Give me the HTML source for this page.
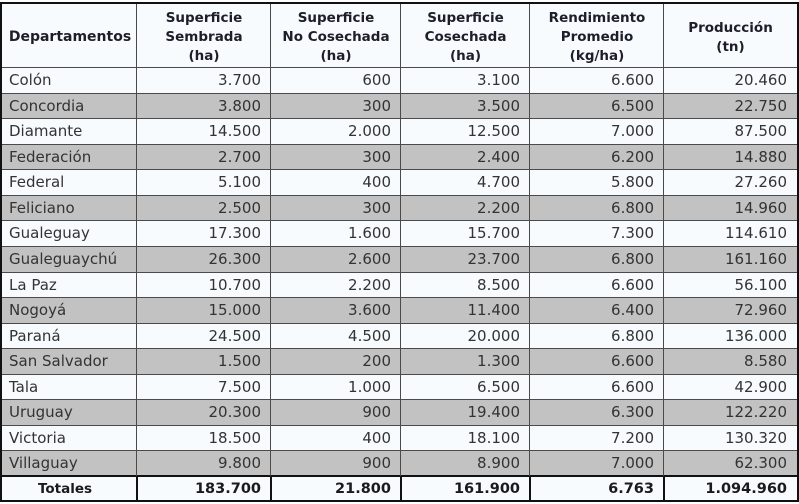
<!DOCTYPE html>
<html><head><meta charset="utf-8">
<style>
*{margin:0;padding:0;box-sizing:border-box}
html,body{width:799px;height:504px;background:#ffffff;overflow:hidden}
#t{position:absolute;left:0;top:0;width:799px;height:504px;font-family:"DejaVu Sans","Liberation Sans",sans-serif}
.r{position:absolute;left:2px;width:795px;background:#f7fbfe}
.g{background:#c2c2c2}
.c{position:absolute;top:0;height:100%;display:flex;align-items:center;justify-content:flex-end;padding-right:10px;font-size:15px;color:#333;white-space:nowrap}
.c0{left:1px;width:134px;justify-content:flex-start;padding-left:6px}
.c1{left:135px;width:134px}
.c2{left:269px;width:130px}
.c3{left:399px;width:129px}
.c4{left:528px;width:134px}
.c5{left:662px;width:133px}
.h .c{justify-content:center;text-align:center;font-weight:bold;font-size:13.5px;line-height:19px;color:#1e1e2a;padding:5px 0 0 0}
.tot .c{font-weight:bold;font-size:14.5px;color:#1a1a1a}
.tot .c0{justify-content:center;padding-left:0;font-size:13.5px}
.hl{position:absolute;left:2px;width:795px;height:1px;background:#4a4a4a}
.vl{position:absolute;top:2px;width:1px;height:499px;background:#4a4a4a}
.vt{position:absolute;top:476px;width:2px;height:25px;background:#111}
</style></head><body><div id="t">
<div class="r h" style="top:3px;height:64px">
<div class="c c0" style="font-size:14px">Departamentos</div>
<div class="c c1">Superficie<br>Sembrada<br>(ha)</div>
<div class="c c2">Superficie<br>No Cosechada<br>(ha)</div>
<div class="c c3">Superficie<br>Cosechada<br>(ha)</div>
<div class="c c4">Rendimiento<br>Promedio<br>(kg/ha)</div>
<div class="c c5">Producción<br>(tn)</div>
</div>
<div class="r" style="top:67px;height:26px"><div class="c c0">Colón</div><div class="c c1">3.700</div><div class="c c2">600</div><div class="c c3">3.100</div><div class="c c4">6.600</div><div class="c c5">20.460</div></div>
<div class="r g" style="top:93px;height:25px"><div class="c c0">Concordia</div><div class="c c1">3.800</div><div class="c c2">300</div><div class="c c3">3.500</div><div class="c c4">6.500</div><div class="c c5">22.750</div></div>
<div class="r" style="top:118px;height:26px"><div class="c c0">Diamante</div><div class="c c1">14.500</div><div class="c c2">2.000</div><div class="c c3">12.500</div><div class="c c4">7.000</div><div class="c c5">87.500</div></div>
<div class="r g" style="top:144px;height:25px"><div class="c c0">Federación</div><div class="c c1">2.700</div><div class="c c2">300</div><div class="c c3">2.400</div><div class="c c4">6.200</div><div class="c c5">14.880</div></div>
<div class="r" style="top:169px;height:26px"><div class="c c0">Federal</div><div class="c c1">5.100</div><div class="c c2">400</div><div class="c c3">4.700</div><div class="c c4">5.800</div><div class="c c5">27.260</div></div>
<div class="r g" style="top:195px;height:25px"><div class="c c0">Feliciano</div><div class="c c1">2.500</div><div class="c c2">300</div><div class="c c3">2.200</div><div class="c c4">6.800</div><div class="c c5">14.960</div></div>
<div class="r" style="top:220px;height:26px"><div class="c c0">Gualeguay</div><div class="c c1">17.300</div><div class="c c2">1.600</div><div class="c c3">15.700</div><div class="c c4">7.300</div><div class="c c5">114.610</div></div>
<div class="r g" style="top:246px;height:26px"><div class="c c0">Gualeguaychú</div><div class="c c1">26.300</div><div class="c c2">2.600</div><div class="c c3">23.700</div><div class="c c4">6.800</div><div class="c c5">161.160</div></div>
<div class="r" style="top:272px;height:25px"><div class="c c0">La Paz</div><div class="c c1">10.700</div><div class="c c2">2.200</div><div class="c c3">8.500</div><div class="c c4">6.600</div><div class="c c5">56.100</div></div>
<div class="r g" style="top:297px;height:26px"><div class="c c0">Nogoyá</div><div class="c c1">15.000</div><div class="c c2">3.600</div><div class="c c3">11.400</div><div class="c c4">6.400</div><div class="c c5">72.960</div></div>
<div class="r" style="top:323px;height:25px"><div class="c c0">Paraná</div><div class="c c1">24.500</div><div class="c c2">4.500</div><div class="c c3">20.000</div><div class="c c4">6.800</div><div class="c c5">136.000</div></div>
<div class="r g" style="top:348px;height:26px"><div class="c c0">San Salvador</div><div class="c c1">1.500</div><div class="c c2">200</div><div class="c c3">1.300</div><div class="c c4">6.600</div><div class="c c5">8.580</div></div>
<div class="r" style="top:374px;height:25px"><div class="c c0">Tala</div><div class="c c1">7.500</div><div class="c c2">1.000</div><div class="c c3">6.500</div><div class="c c4">6.600</div><div class="c c5">42.900</div></div>
<div class="r g" style="top:399px;height:26px"><div class="c c0">Uruguay</div><div class="c c1">20.300</div><div class="c c2">900</div><div class="c c3">19.400</div><div class="c c4">6.300</div><div class="c c5">122.220</div></div>
<div class="r" style="top:425px;height:25px"><div class="c c0">Victoria</div><div class="c c1">18.500</div><div class="c c2">400</div><div class="c c3">18.100</div><div class="c c4">7.200</div><div class="c c5">130.320</div></div>
<div class="r g" style="top:450px;height:26px"><div class="c c0">Villaguay</div><div class="c c1">9.800</div><div class="c c2">900</div><div class="c c3">8.900</div><div class="c c4">7.000</div><div class="c c5">62.300</div></div>
<div class="r tot" style="top:476px;height:25px"><div class="c c0">Totales</div><div class="c c1">183.700</div><div class="c c2">21.800</div><div class="c c3">161.900</div><div class="c c4">6.763</div><div class="c c5">1.094.960</div></div>

<div class="hl" style="top:67px"></div>
<div class="hl" style="top:93px"></div>
<div class="hl" style="top:118px"></div>
<div class="hl" style="top:144px"></div>
<div class="hl" style="top:169px"></div>
<div class="hl" style="top:195px"></div>
<div class="hl" style="top:220px"></div>
<div class="hl" style="top:246px"></div>
<div class="hl" style="top:272px"></div>
<div class="hl" style="top:297px"></div>
<div class="hl" style="top:323px"></div>
<div class="hl" style="top:348px"></div>
<div class="hl" style="top:374px"></div>
<div class="hl" style="top:399px"></div>
<div class="hl" style="top:425px"></div>
<div class="hl" style="top:450px"></div>
<div class="hl" style="top:475px;height:2px;background:#111"></div>

<div class="vl" style="left:136px"></div>
<div class="vl" style="left:270px"></div>
<div class="vl" style="left:400px"></div>
<div class="vl" style="left:529px"></div>
<div class="vl" style="left:663px"></div>
<div class="vt" style="left:136px"></div>
<div class="vt" style="left:270px"></div>
<div class="vt" style="left:400px"></div>
<div class="vt" style="left:529px"></div>
<div class="vt" style="left:663px"></div>

<div style="position:absolute;left:0;top:2px;width:799px;height:500px;border:2px solid #111"></div>
</div></body></html>
